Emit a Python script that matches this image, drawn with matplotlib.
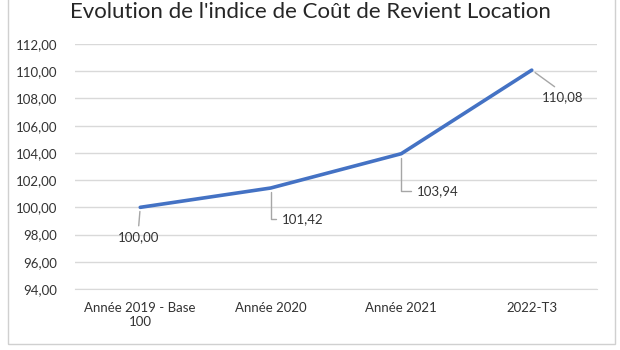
import matplotlib.pyplot as plt
from matplotlib.patches import Rectangle

# data
categories = ['Année 2019 - Base\n100', 'Année 2020', 'Année 2021', '2022-T3']
values = [100.00, 101.42, 103.94, 110.08]
yticks = [94, 96, 98, 100, 102, 104, 106, 108, 110, 112]

# label offsets (pixels) from each point
label_offsets = [(-2, -30), (32, -31), (36, -37), (31, -27)]
label_relpos = [(0.5, 1.0), (0.0, 0.5), (0.0, 0.5), (0.45, 1.0)]
connections = ['arc3', 'angle,angleA=0,angleB=90,rad=0',
               'angle,angleA=0,angleB=90,rad=0', 'arc3']

plt.rcParams['font.family'] = ['Lato', 'DejaVu Sans']

fig = plt.figure(figsize=(6.2, 3.5), dpi=100)
ax = fig.add_axes([75 / 620, 1 - 289 / 350, 522 / 620, 245 / 350])

# outer chart border
fig.patches.append(Rectangle((8 / 620, 6 / 350), 607 / 620, 1.2,
                             transform=fig.transFigure, fill=False,
                             edgecolor='#D0D0D0', linewidth=1))

x = range(len(categories))
ax.plot(x, values, color='#4472C4', linewidth=2.6, solid_capstyle='round', zorder=3)

for i, v in enumerate(values):
    label = f'{v:.2f}'.replace('.', ',')
    ax.annotate(label, xy=(i, v), xytext=label_offsets[i], textcoords='offset pixels',
                ha='center', va='center', fontsize=9.5, color='#333333',
                arrowprops=dict(arrowstyle='-', color='#A6A6A6', linewidth=1,
                                shrinkA=2, shrinkB=3, relpos=label_relpos[i],
                                connectionstyle=connections[i]))

ax.set_xlim(-0.5, len(categories) - 0.5)
ax.set_ylim(94, 112)
ax.set_yticks(yticks)
ax.set_yticklabels([f'{t:.2f}'.replace('.', ',') for t in yticks])
ax.set_xticks(list(x))
ax.set_xticklabels(categories, linespacing=1.3)
ax.tick_params(axis='both', length=0, labelsize=9.5, labelcolor='#333333')
ax.tick_params(axis='y', pad=13)
ax.tick_params(axis='x', pad=9)

ax.grid(axis='y', color='#D9D9D9', linewidth=1)
ax.set_axisbelow(True)
for side in ['top', 'right', 'left']:
    ax.spines[side].set_visible(False)
ax.spines['bottom'].set_color('#D9D9D9')

fig.text(0.5, 1 - 12 / 350, "Evolution de l'indice de Coût de Revient Location",
         ha='center', va='center', fontsize=16, color='#262626')

fig.savefig('out.png', dpi=100, facecolor='white')
